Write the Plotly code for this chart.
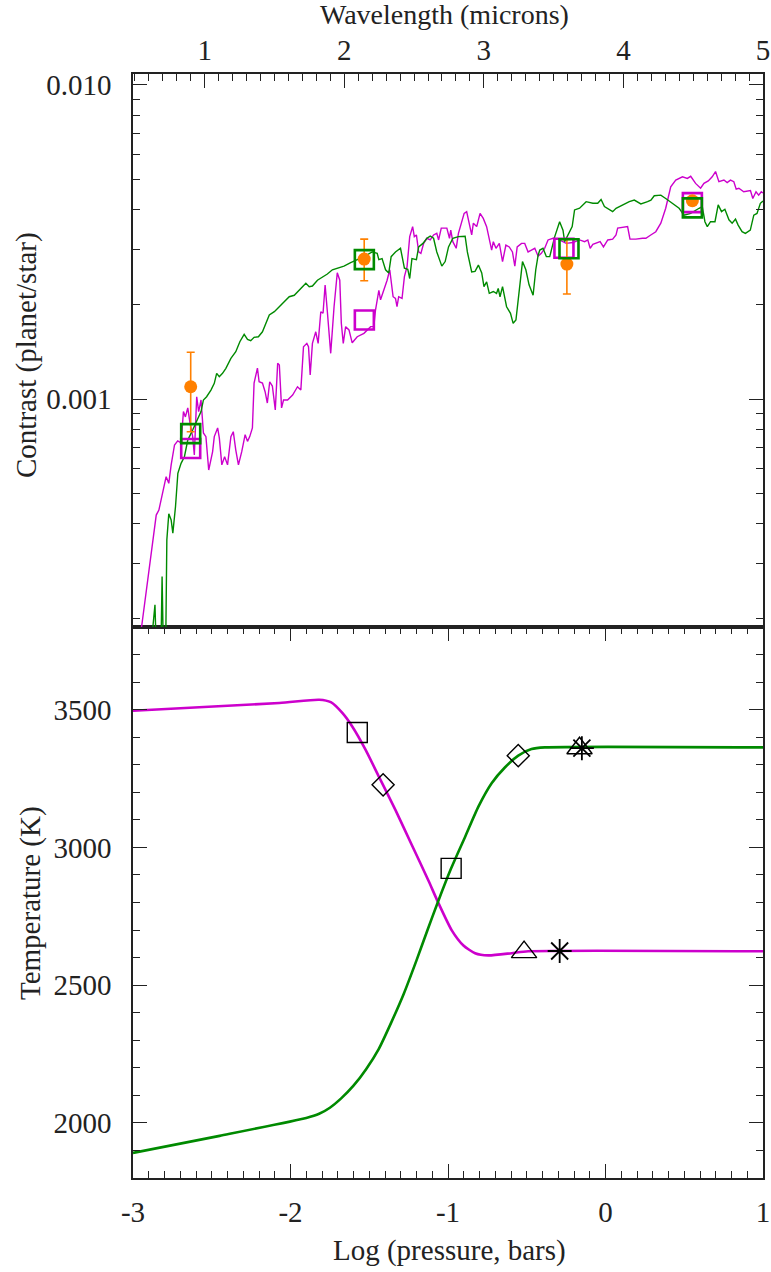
import plotly.graph_objects as go

# ---------------- data: top panel (contrast spectra) ----------------
mag_wl = [0.546, 0.581, 0.617, 0.653, 0.672, 0.701, 0.724, 0.743, 0.760, 0.784, 0.807, 0.831, 0.848, 0.862,
          0.879, 0.895, 0.914, 0.926, 0.943, 0.957, 0.974, 0.991, 1.009, 1.029, 1.045, 1.057, 1.069, 1.093,
          1.105, 1.123, 1.143, 1.164, 1.188, 1.205, 1.223, 1.242, 1.266, 1.290, 1.307, 1.323, 1.342, 1.354,
          1.378, 1.390, 1.414, 1.433, 1.449, 1.466, 1.485, 1.506, 1.523, 1.535, 1.551, 1.565, 1.594, 1.630,
          1.665, 1.689, 1.708, 1.732, 1.744, 1.756, 1.772, 1.796, 1.813, 1.832, 1.848, 1.863, 1.879, 1.903,
          1.927, 1.950, 1.968, 1.979, 1.993, 2.010, 2.034, 2.057, 2.093, 2.141, 2.189, 2.212, 2.224, 2.248,
          2.260, 2.283, 2.307, 2.326, 2.350, 2.367, 2.378, 2.390, 2.414, 2.431, 2.450, 2.469, 2.490, 2.502,
          2.517, 2.533, 2.549, 2.569, 2.592, 2.616, 2.640, 2.663, 2.676, 2.695, 2.735, 2.754, 2.763, 2.778,
          2.802, 2.818, 2.842, 2.859, 2.877, 2.897, 2.913, 2.925, 2.949, 2.973, 2.996, 3.020, 3.039, 3.056,
          3.068, 3.087, 3.111, 3.134, 3.158, 3.182, 3.205, 3.222, 3.239, 3.270, 3.293, 3.317, 3.341, 3.365,
          3.389, 3.412, 3.436, 3.460, 3.496, 3.531, 3.590, 3.638, 3.686, 3.722, 3.745, 3.762, 3.781, 3.804,
          3.833, 3.857, 3.888, 3.923, 3.947, 3.959, 3.995, 4.030, 4.047, 4.089, 4.137, 4.161, 4.196, 4.232,
          4.268, 4.303, 4.339, 4.375, 4.423, 4.458, 4.482, 4.517, 4.553, 4.577, 4.608, 4.636, 4.660, 4.684,
          4.720, 4.743, 4.767, 4.791, 4.808, 4.827, 4.862, 4.910, 4.927, 4.950, 4.969, 4.988, 5.000]
mag_contrast = [0.185e-3, 0.246e-3, 0.324e-3, 0.427e-3, 0.443e-3, 0.513e-3, 0.566e-3, 0.539e-3, 0.617e-3,
                0.714e-3, 0.736e-3, 0.725e-3, 0.912e-3, 0.877e-3, 0.937e-3, 0.838e-3, 0.759e-3, 0.664e-3,
                1.017e-3, 0.912e-3, 0.993e-3, 0.780e-3, 0.759e-3, 0.594e-3, 0.649e-3, 0.680e-3, 0.759e-3,
                0.809e-3, 0.752e-3, 0.617e-3, 0.655e-3, 0.617e-3, 0.759e-3, 0.787e-3, 0.688e-3, 0.617e-3,
                0.681e-3, 0.770e-3, 0.733e-3, 0.759e-3, 0.809e-3, 1.124e-3, 1.255e-3, 1.135e-3, 1.124e-3,
                1.055e-3, 0.971e-3, 1.135e-3, 1.100e-3, 0.923e-3, 1.299e-3, 1.283e-3, 0.937e-3, 0.993e-3,
                0.993e-3, 1.030e-3, 1.094e-3, 1.068e-3, 1.467e-3, 1.504e-3, 1.467e-3, 1.192e-3, 1.504e-3,
                1.637e-3, 1.504e-3, 1.897e-3, 1.875e-3, 2.307e-3, 1.897e-3, 1.398e-3, 1.967e-3, 2.525e-3,
                2.390e-3, 1.742e-3, 1.504e-3, 1.700e-3, 1.660e-3, 1.510e-3, 1.579e-3, 1.619e-3, 1.700e-3,
                1.700e-3, 1.920e-3, 2.220e-3, 2.070e-3, 2.220e-3, 2.390e-3, 2.580e-3, 2.117e-3, 2.090e-3,
                1.970e-3, 2.117e-3, 2.090e-3, 2.453e-3, 2.638e-3, 3.290e-3, 3.540e-3, 3.290e-3, 3.330e-3,
                2.940e-3, 2.910e-3, 3.130e-3, 3.250e-3, 3.210e-3, 3.330e-3, 3.370e-3, 3.210e-3, 3.500e-3,
                3.500e-3, 3.250e-3, 3.450e-3, 3.170e-3, 3.020e-3, 3.370e-3, 3.670e-3, 3.900e-3, 3.950e-3,
                3.540e-3, 3.330e-3, 3.630e-3, 3.540e-3, 3.900e-3, 3.760e-3, 3.540e-3, 3.210e-3, 2.980e-3,
                3.170e-3, 3.020e-3, 3.130e-3, 2.740e-3, 3.090e-3, 3.050e-3, 2.940e-3, 2.650e-3, 3.050e-3,
                3.130e-3, 3.130e-3, 2.940e-3, 2.980e-3, 3.020e-3, 2.850e-3, 2.910e-3, 3.020e-3, 3.210e-3,
                3.250e-3, 3.230e-3, 3.130e-3, 3.150e-3, 3.210e-3, 3.170e-3, 3.210e-3, 3.020e-3, 3.110e-3,
                3.130e-3, 3.170e-3, 3.050e-3, 3.210e-3, 3.230e-3, 3.330e-3, 3.500e-3, 3.520e-3, 3.540e-3,
                3.230e-3, 3.230e-3, 3.250e-3, 3.250e-3, 3.330e-3, 3.410e-3, 3.630e-3, 4.050e-3, 4.740e-3,
                4.980e-3, 5.100e-3, 5.040e-3, 5.120e-3, 4.860e-3, 4.690e-3, 4.860e-3, 4.950e-3, 5.100e-3,
                5.300e-3, 4.920e-3, 4.980e-3, 4.890e-3, 4.980e-3, 4.920e-3, 4.660e-3, 4.690e-3, 4.570e-3,
                4.610e-3, 4.350e-3, 4.570e-3, 4.460e-3, 4.570e-3, 4.530e-3]

grn_wl = [0.608, 0.644, 0.655, 0.686, 0.695, 0.705, 0.720, 0.729, 0.743, 0.760, 0.772, 0.791, 0.808, 0.831,
          0.855, 0.879, 0.914, 0.950, 0.974, 0.991, 1.014, 1.045, 1.069, 1.086, 1.105, 1.128, 1.152, 1.188,
          1.223, 1.252, 1.283, 1.307, 1.330, 1.354, 1.385, 1.414, 1.437, 1.463, 1.499, 1.535, 1.570, 1.606,
          1.642, 1.665, 1.701, 1.725, 1.749, 1.772, 1.808, 1.843, 1.879, 1.915, 1.950, 1.998, 2.046, 2.093,
          2.141, 2.200, 2.236, 2.248, 2.271, 2.296, 2.319, 2.336, 2.367, 2.403, 2.431, 2.455, 2.469, 2.485,
          2.517, 2.533, 2.564, 2.592, 2.616, 2.640, 2.663, 2.699, 2.723, 2.747, 2.778, 2.818, 2.866, 2.882,
          2.913, 2.937, 2.961, 2.985, 3.001, 3.020, 3.039, 3.068, 3.091, 3.103, 3.116, 3.134, 3.163, 3.191,
          3.210, 3.230, 3.258, 3.277, 3.301, 3.324, 3.353, 3.372, 3.389, 3.401, 3.424, 3.448, 3.472, 3.508,
          3.543, 3.567, 3.579, 3.602, 3.633, 3.650, 3.686, 3.733, 3.781, 3.816, 3.840, 3.864, 3.923, 3.947,
          3.995, 4.042, 4.078, 4.125, 4.173, 4.197, 4.221, 4.268, 4.303, 4.351, 4.399, 4.435, 4.482, 4.542,
          4.565, 4.584, 4.601, 4.624, 4.656, 4.679, 4.703, 4.727, 4.756, 4.779, 4.803, 4.822, 4.850, 4.874,
          4.909, 4.934, 4.957, 4.981, 5.000]
grn_contrast = [0.150e-3, 0.221e-3, 0.150e-3, 0.150e-3, 0.272e-3, 0.150e-3, 0.150e-3, 0.356e-3, 0.431e-3,
                0.412e-3, 0.374e-3, 0.454e-3, 0.580e-3, 0.624e-3, 0.655e-3, 0.740e-3, 0.797e-3, 0.868e-3,
                0.912e-3, 0.993e-3, 1.017e-3, 1.068e-3, 1.122e-3, 1.207e-3, 1.178e-3, 1.207e-3, 1.252e-3,
                1.347e-3, 1.414e-3, 1.522e-3, 1.606e-3, 1.549e-3, 1.533e-3, 1.572e-3, 1.579e-3, 1.637e-3,
                1.742e-3, 1.852e-3, 1.897e-3, 1.967e-3, 2.040e-3, 2.117e-3, 2.140e-3, 2.196e-3, 2.279e-3,
                2.336e-3, 2.279e-3, 2.290e-3, 2.390e-3, 2.440e-3, 2.500e-3, 2.580e-3, 2.610e-3, 2.650e-3,
                2.720e-3, 2.780e-3, 2.840e-3, 2.940e-3, 2.910e-3, 2.780e-3, 2.800e-3, 2.580e-3, 2.520e-3,
                2.840e-3, 2.940e-3, 3.020e-3, 2.610e-3, 2.590e-3, 2.420e-3, 2.800e-3, 2.780e-3, 3.050e-3,
                3.130e-3, 3.250e-3, 3.300e-3, 3.250e-3, 2.940e-3, 2.650e-3, 2.740e-3, 3.050e-3, 3.250e-3,
                3.290e-3, 3.300e-3, 2.940e-3, 2.540e-3, 2.550e-3, 2.670e-3, 2.520e-3, 2.280e-3, 2.360e-3,
                2.170e-3, 2.200e-3, 2.170e-3, 2.250e-3, 2.117e-3, 2.280e-3, 1.967e-3, 1.875e-3, 1.742e-3,
                1.785e-3, 2.330e-3, 2.740e-3, 2.580e-3, 2.310e-3, 2.140e-3, 2.580e-3, 2.870e-3, 2.980e-3,
                3.020e-3, 2.840e-3, 2.840e-3, 3.290e-3, 3.670e-3, 3.450e-3, 3.170e-3, 3.330e-3, 3.540e-3,
                4.000e-3, 4.050e-3, 4.250e-3, 4.200e-3, 4.200e-3, 4.320e-3, 4.100e-3, 3.950e-3, 4.050e-3,
                4.150e-3, 4.250e-3, 4.300e-3, 4.180e-3, 4.250e-3, 4.300e-3, 4.440e-3, 4.460e-3, 4.350e-3,
                4.200e-3, 4.050e-3, 3.850e-3, 3.900e-3, 4.050e-3, 4.100e-3, 3.670e-3, 3.540e-3, 3.670e-3,
                3.670e-3, 4.150e-3, 3.950e-3, 4.020e-3, 3.720e-3, 3.630e-3, 3.740e-3, 3.580e-3, 3.410e-3,
                3.370e-3, 3.450e-3, 3.850e-3, 3.900e-3, 4.200e-3, 4.270e-3]

# band-integrated model values (open squares)
mag_band_wl = [0.900, 2.144, 3.574, 4.494]
mag_band_c = [0.696e-3, 1.785e-3, 3.02e-3, 4.22e-3]
grn_band_wl = [0.900, 2.144, 3.610, 4.494]
grn_band_c = [0.776e-3, 2.78e-3, 3.01e-3, 4.06e-3]

# observed eclipse depths
obs_wl = [0.900, 2.143, 3.595, 4.494]
obs_c = [1.094e-3, 2.79e-3, 2.69e-3, 4.28e-3]
obs_err_up = [0.315e-3, 0.44e-3, 0.53e-3, 0.10e-3]
obs_err_dn = [0.307e-3, 0.41e-3, 0.53e-3, 0.10e-3]

# ---------------- data: bottom panel (T-P profiles) ----------------
mag_logp = [-3.0, -2.071, -1.818, -1.744, -1.671, -1.608, -1.523, -1.439, -1.334, -1.229, -1.123, -1.064,
            -0.976, -0.902, -0.828, -0.744, -0.597, -0.491, 1.0]
mag_temp = [3496, 3524, 3536, 3527, 3488, 3439, 3354, 3257, 3136, 3008, 2878, 2802,
            2699, 2644, 2616, 2608, 2616, 2623, 2623]
grn_logp = [-3.0, -2.45, -1.90, -1.818, -1.75, -1.68, -1.60, -1.52, -1.44, -1.36, -1.28, -1.20, -1.13,
            -1.064, -0.980, -0.891, -0.807, -0.723, -0.639, -0.554, -0.470, -0.385, 1.0]
grn_temp = [1891, 1953, 2018, 2033, 2055, 2088, 2135, 2195, 2268, 2365, 2470, 2590, 2700,
            2802, 2924, 3039, 3148, 3233, 3290, 3333, 3357, 3363, 3363]

# contribution-function peak markers
sq_logp, sq_temp = [-1.576, -0.980], [3417, 2924]
dia_logp, dia_temp = [-1.412, -0.554], [3227, 3333]
tri_logp, tri_temp = [-0.517, -0.165], [2620, 3360]
star_logp, star_temp = [-0.291, -0.150], [2624, 3360]

# ---------------- styling ----------------
FONT = "Liberation Serif"
TXT = "#222222"
MAG = "#cc00cc"
GRN = "#008a00"
ORG = "#ff8000"
FS = 29

fig = go.Figure()

# top panel
fig.add_trace(go.Scatter(x=mag_wl, y=mag_contrast, mode="lines", line=dict(color=MAG, width=1.4),
                         xaxis="x2", yaxis="y2"))
fig.add_trace(go.Scatter(x=grn_wl, y=grn_contrast, mode="lines", line=dict(color=GRN, width=1.4),
                         xaxis="x2", yaxis="y2"))
fig.add_trace(go.Scatter(x=mag_band_wl, y=mag_band_c, mode="markers",
                         marker=dict(symbol="square-open", size=19, color=MAG, line=dict(width=2.6, color=MAG)),
                         xaxis="x2", yaxis="y2"))
fig.add_trace(go.Scatter(x=obs_wl, y=obs_c, mode="markers",
                         marker=dict(symbol="circle", size=13, color=ORG, line=dict(width=0)),
                         error_y=dict(type="data", symmetric=False, array=obs_err_up, arrayminus=obs_err_dn,
                                      color=ORG, thickness=1.6, width=4),
                         xaxis="x2", yaxis="y2"))
fig.add_trace(go.Scatter(x=grn_band_wl, y=grn_band_c, mode="markers",
                         marker=dict(symbol="square-open", size=19, color=GRN, line=dict(width=2.6, color=GRN)),
                         xaxis="x2", yaxis="y2"))

# bottom panel
fig.add_trace(go.Scatter(x=mag_logp, y=mag_temp, mode="lines",
                         line=dict(color=MAG, width=2.6, shape="spline", smoothing=0.6)))
fig.add_trace(go.Scatter(x=grn_logp, y=grn_temp, mode="lines",
                         line=dict(color=GRN, width=2.6, shape="spline", smoothing=0.6)))
mk = dict(color="black", line=dict(width=1.4, color="black"))
fig.add_trace(go.Scatter(x=sq_logp, y=sq_temp, mode="markers", marker=dict(symbol="square-open", size=20, **mk)))
fig.add_trace(go.Scatter(x=dia_logp, y=dia_temp, mode="markers", marker=dict(symbol="diamond-open", size=17, **mk)))
fig.add_trace(go.Scatter(x=tri_logp, y=tri_temp, mode="markers",
                         marker=dict(symbol="triangle-up-open", size=22, **mk)))
fig.add_trace(go.Scatter(x=star_logp, y=star_temp, mode="markers",
                         marker=dict(symbol="asterisk-open", size=20, color="black",
                                     line=dict(width=1.8, color="black"))))

tickfont = dict(family=FONT, size=FS, color=TXT)
axis_common = dict(showgrid=False, zeroline=False, showline=True, linecolor=TXT, linewidth=1.5,
                   ticks="inside", ticklen=14, tickwidth=1.3, tickcolor=TXT, tickfont=tickfont,
                   ticklabeloverflow="allow", automargin=False)
minor_common = dict(ticks="inside", ticklen=7, tickwidth=1, tickcolor=TXT)

split = 551 / 1104
L, R, T, B = 133, 8, 74, 94
PW = 771 - L - R

fig.update_layout(
    width=771, height=1272,
    margin=dict(l=L, r=R, t=T, b=B, autoexpand=False),
    paper_bgcolor="white", plot_bgcolor="white",
    showlegend=False,
    xaxis=dict(domain=[0, 1], anchor="y", range=[-3, 1], tickmode="array",
               tickvals=[-3, -2, -1, 0, 1], ticktext=["-3", "-2", "-1", "0", "1"], mirror="ticks",
               minor=dict(dtick=0.1, tick0=0, **minor_common),
               ticklabelstandoff=7, **axis_common),
    yaxis=dict(domain=[0, split], anchor="x", range=[1800, 3800], tickmode="array",
               tickvals=[2000, 2500, 3000, 3500], mirror="ticks",
               minor=dict(dtick=100, tick0=0, **minor_common),
               ticklabelstandoff=14, **axis_common),
    xaxis2=dict(domain=[0, 1], anchor="y2", side="top", range=[0.4866, 5.0], tickmode="array",
                tickvals=[1, 2, 3, 4, 5], mirror=True,
                minor=dict(dtick=0.1, tick0=0, **minor_common),
                ticklabelstandoff=1, **axis_common),
    yaxis2=dict(domain=[split, 1], anchor="x2", type="log", range=[-3.726, -1.965], tickmode="array",
                tickvals=[0.001, 0.01], ticktext=["0.001", "0.010"], mirror="ticks",
                minor=dict(tickmode="array",
                           tickvals=[2e-4, 3e-4, 4e-4, 5e-4, 6e-4, 7e-4, 8e-4, 9e-4,
                                     2e-3, 3e-3, 4e-3, 5e-3, 6e-3, 7e-3, 8e-3, 9e-3], **minor_common),
                ticklabelstandoff=14, **axis_common),
)

title_font = dict(family=FONT, size=FS, color=TXT)
fig.add_annotation(text="Wavelength (microns)", xref="paper", yref="paper", x=(444 - L) / PW,
                   y=(1178 - 15) / 1104, showarrow=False, font=dict(family=FONT, size=28, color=TXT),
                   xanchor="center", yanchor="middle")
fig.add_annotation(text="Log (pressure, bars)", xref="paper", yref="paper", x=(449 - L) / PW,
                   y=(1178 - 1250) / 1104, showarrow=False, font=title_font, xanchor="center", yanchor="middle")
fig.add_annotation(text="Contrast (planet/star)", xref="paper", yref="paper", x=(27 - L) / PW,
                   y=(1178 - 355) / 1104, showarrow=False, font=title_font, textangle=-90,
                   xanchor="center", yanchor="middle")
fig.add_annotation(text="Temperature (K)", xref="paper", yref="paper", x=(30 - L) / PW,
                   y=(1178 - 903) / 1104, showarrow=False, font=title_font, textangle=-90,
                   xanchor="center", yanchor="middle")

fig.write_html("out.html")
